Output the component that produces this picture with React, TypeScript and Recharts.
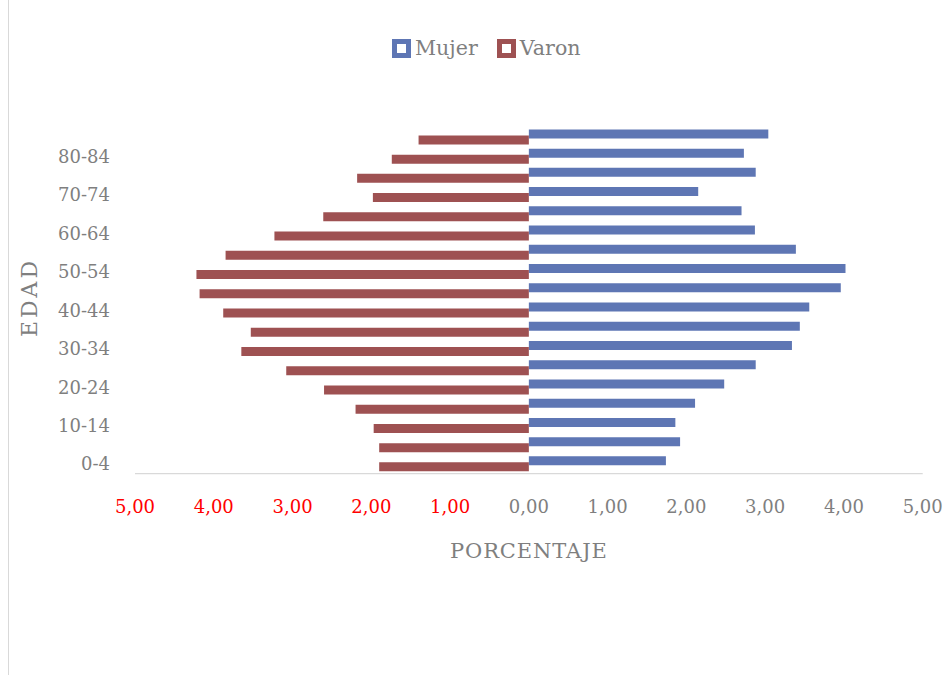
import React from 'react'
import { BarChart, Bar, XAxis, YAxis, Legend, Label } from 'recharts'

// age groups, bottom to top
const ageGroups = ['0-4', '5-9', '10-14', '15-19', '20-24', '25-29', '30-34', '35-39', '40-44', '45-49', '50-54', '55-59', '60-64', '65-69', '70-74', '75-79', '80-84', '85+']
const mujer = [1.74, 1.92, 1.86, 2.11, 2.48, 2.88, 3.34, 3.44, 3.56, 3.96, 4.02, 3.39, 2.87, 2.7, 2.15, 2.88, 2.73, 3.04]
const varon = [1.9, 1.9, 1.97, 2.2, 2.6, 3.08, 3.65, 3.53, 3.88, 4.18, 4.22, 3.85, 3.23, 2.61, 1.98, 2.18, 1.74, 1.4]
const shownAges = ['0-4', '10-14', '20-24', '30-34', '40-44', '50-54', '60-64', '70-74', '80-84']
const pctTicks = [-5, -4, -3, -2, -1, 0, 1, 2, 3, 4, 5]

const BLUE = '#5e76b4'
const RED = '#9e5152'
const GREY = '#7f7f7f'
const FONT = '"DejaVu Serif", serif'

// top row is the oldest group
const data = ageGroups
  .map((age, i) => ({ age, Mujer: mujer[i], Varon: -varon[i] }))
  .reverse()

const fmt = (v: number) => Math.abs(v).toFixed(2).replace('.', ',')

const AgeTick = ({ x, y, payload }: any) => {
  if (!shownAges.includes(payload.value)) return null
  return (
    <text x={x - 25} y={y} dy={6.5} textAnchor="end" fill={GREY} fontSize={18} fontFamily={FONT}>
      {payload.value}
    </text>
  )
}

const PctTick = ({ x, y, payload }: any) => (
  <text x={x} y={y} dy={39.5} textAnchor="middle" fill={payload.value < 0 ? '#ff0000' : GREY} fontSize={18} fontFamily={FONT}>
    {fmt(payload.value)}
  </text>
)

const LegendBox = ({ payload }: any) => (
  <div style={{ display: 'flex', alignItems: 'center', fontFamily: FONT, fontSize: 20.6, color: GREY }}>
    {(payload || []).map((p: any, i: number) => (
      <div key={p.value} style={{ display: 'flex', alignItems: 'center', marginLeft: i ? 19 : 0 }}>
        <span style={{ width: 9, height: 9, border: `5px solid ${p.color}`, background: '#fff', marginRight: 4 }} />
        <span>{p.value}</span>
      </div>
    ))}
  </div>
)

export default function App() {
  return (
    <div style={{ position: 'absolute', left: 0, top: 0, width: 951, height: 675, background: '#fff' }}>
      <div style={{ position: 'absolute', left: 8, top: 0, width: 1, height: 675, background: '#d9d9d9' }} />
      <BarChart
        width={951}
        height={675}
        data={data}
        layout="vertical"
        margin={{ top: 127.4, right: 28.3, bottom: 111.4, left: 25 }}
        barSize={9}
        barGap={-3}
      >
        <XAxis
          type="number"
          domain={[-5, 5]}
          ticks={pctTicks}
          tick={<PctTick />}
          tickLine={false}
          tickSize={0}
          tickMargin={0}
          axisLine={{ stroke: '#d9d9d9', strokeWidth: 1.3 }}
          height={90}
          interval={0}
        >
          <Label
            content={({ viewBox }: any) => (
              <text x={viewBox.x + viewBox.width / 2} y={viewBox.y + 84} textAnchor="middle" fill={GREY} fontSize={21} letterSpacing={0.9} fontFamily={FONT}>
                PORCENTAJE
              </text>
            )}
          />
        </XAxis>
        <YAxis
          type="category"
          dataKey="age"
          width={110}
          tick={<AgeTick />}
          tickLine={false}
          tickSize={0}
          tickMargin={0}
          axisLine={false}
          interval={0}
        >
          <Label
            content={({ viewBox }: any) => {
              const cx = 37.3
              const cy = viewBox.y + viewBox.height / 2 - 3
              return (
                <text x={cx} y={cy} transform={`rotate(-90 ${cx} ${cy})`} textAnchor="middle" fill={GREY} fontSize={22} letterSpacing={3} fontFamily={FONT}>
                  EDAD
                </text>
              )
            }}
          />
        </YAxis>
        <Legend
          layout="horizontal"
          verticalAlign="middle"
          content={<LegendBox />}
          wrapperStyle={{ top: 36, left: 392, width: 260 }}
        />
        <Bar dataKey="Mujer" fill={BLUE} isAnimationActive={false} />
        <Bar dataKey="Varon" fill={RED} isAnimationActive={false} />
      </BarChart>
    </div>
  )
}
